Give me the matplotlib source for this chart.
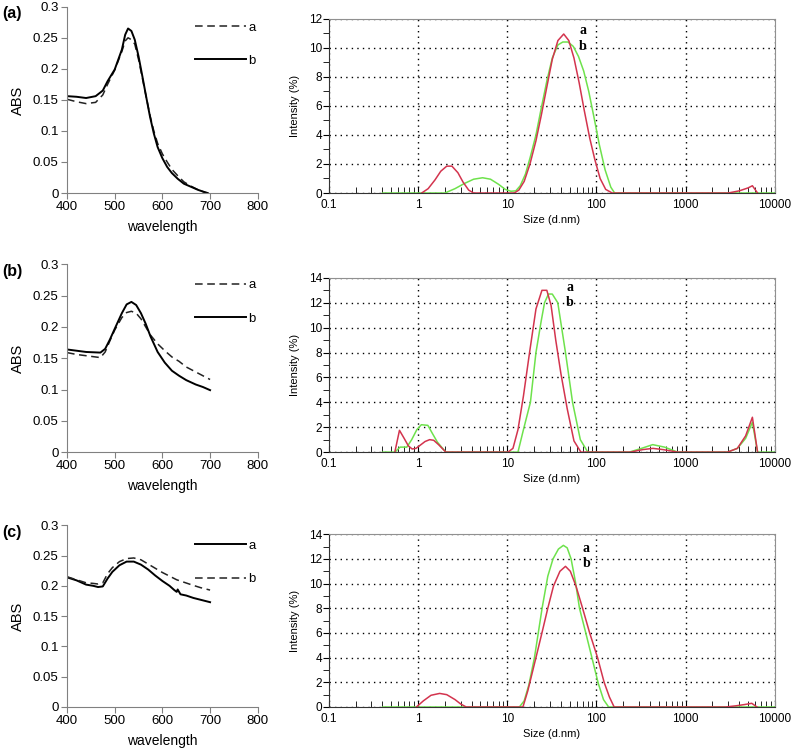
import matplotlib.pyplot as plt
from matplotlib.ticker import MultipleLocator, LogLocator, NullFormatter, FixedLocator
import numpy as np

plt.rcParams['font.family'] = ['Liberation Sans', 'DejaVu Sans']

# ---- UV-vis spectra (left column) ----
wl_a = [400, 420, 440, 460, 475, 485, 500, 515, 522, 528, 535, 542, 550, 558, 566, 574, 582, 590,
        600, 610, 620, 632, 645, 660, 675, 690, 695]
abs_a_a = [0.151, 0.147, 0.144, 0.146, 0.158, 0.175, 0.198, 0.228, 0.245, 0.25, 0.247, 0.24, 0.215,
           0.185, 0.155, 0.125, 0.1, 0.08, 0.063, 0.05, 0.038, 0.028, 0.018, 0.011, 0.005, 0.001, 0.0]
abs_a_b = [0.156, 0.155, 0.153, 0.156, 0.165, 0.18, 0.199, 0.231, 0.255, 0.265, 0.261, 0.247, 0.22,
           0.188, 0.155, 0.123, 0.096, 0.074, 0.056, 0.042, 0.032, 0.023, 0.015, 0.01, 0.005, 0.001, 0.0]

wl_b = [400, 420, 440, 470, 480, 490, 500, 515, 525, 535, 545, 555, 565, 575, 590, 605, 620, 635,
        650, 670, 685, 700]
abs_b_a = [0.159, 0.156, 0.154, 0.151, 0.16, 0.178, 0.195, 0.215, 0.223, 0.225, 0.222, 0.213, 0.2,
           0.187, 0.173, 0.162, 0.152, 0.145, 0.136, 0.128, 0.122, 0.116]
abs_b_b = [0.164, 0.162, 0.16, 0.159, 0.165, 0.18, 0.197, 0.222, 0.236, 0.24, 0.235, 0.222, 0.205,
           0.185, 0.16, 0.143, 0.13, 0.122, 0.115, 0.108, 0.104, 0.099]

wl_c_a = [400, 420, 440, 455, 465, 475, 485, 495, 510, 525, 540, 555, 570, 585, 600, 615, 625, 630,
          632, 638, 650, 665, 680, 700]
abs_c_a = [0.214, 0.209, 0.202, 0.2, 0.198, 0.199, 0.212, 0.223, 0.234, 0.24, 0.24, 0.235, 0.227,
           0.217, 0.208, 0.2, 0.193, 0.19, 0.194, 0.186, 0.184, 0.18, 0.177, 0.173]
wl_c_b = [400, 420, 440, 455, 465, 475, 485, 495, 510, 525, 540, 555, 570, 585, 600, 615, 630, 645,
          660, 680, 700]
abs_c_b = [0.215, 0.21, 0.205, 0.204, 0.203, 0.205, 0.22, 0.23, 0.24, 0.245, 0.246, 0.243, 0.236,
           0.229, 0.222, 0.216, 0.21, 0.206, 0.202, 0.197, 0.193]

# ---- DLS size distributions (right column) ----
size_a_red = [1.1, 1.3, 1.55, 1.8, 2.1, 2.4, 2.8, 3.2, 3.7, 4.2, 12, 13.5, 15.5, 18, 21, 24, 28, 32,
              37, 43, 49, 56, 64, 73, 84, 96, 110, 127, 150, 3000, 4000, 5000, 5600, 6400]
int_a_red = [0, 0.3, 0.9, 1.5, 1.85, 1.85, 1.4, 0.75, 0.2, 0, 0, 0.2, 0.8, 2.0, 3.6, 5.3, 7.4, 9.2,
             10.5, 10.95, 10.5, 9.3, 7.6, 5.7, 3.8, 2.3, 1.0, 0.25, 0, 0, 0.15, 0.35, 0.5, 0]
size_a_grn = [0.4, 1.0, 2.0, 2.6, 3.3, 4.2, 5.3, 6.5, 8.0, 9.5, 11.0, 12.5, 14, 16, 18, 21, 24, 28,
              32, 37, 42, 48, 55, 63, 72, 82, 94, 108, 125, 145, 160, 1000, 10000]
int_a_grn = [0, 0, 0, 0.3, 0.65, 0.95, 1.05, 0.95, 0.6, 0.25, 0.12, 0.15, 0.5, 1.3, 2.4, 4.0, 5.8,
             7.8, 9.3, 10.2, 10.4, 10.4, 10.1, 9.4, 8.4, 7.0, 5.2, 3.3, 1.6, 0.4, 0, 0, 0]

size_b_red = [0.55, 0.62, 0.7, 0.78, 0.86, 0.95, 1.08, 1.2, 1.35, 1.5, 1.7, 2.05, 10.2, 11.6, 13.2,
              15.2, 17.8, 21, 24.5, 27.8, 31, 35, 40, 47, 56, 67, 240, 330, 430, 560, 810, 2950,
              3800, 4700, 5600, 6400]
int_b_red = [0, 1.75, 1.1, 0.5, 0.25, 0.3, 0.6, 0.85, 1.0, 0.95, 0.6, 0, 0, 0.3, 1.8, 4.5, 8.0,
             11.5, 13, 13, 11.8, 9.0, 6.3, 3.5, 0.9, 0, 0, 0.2, 0.3, 0.2, 0, 0, 0.3, 1.3, 2.8, 0]
size_b_grn = [0.4, 0.55, 0.63, 0.75, 0.85, 0.97, 1.09, 1.29, 1.45, 1.65, 2.05, 13.2, 15.2, 18.2, 21,
              24, 26.2, 29, 32, 36.9, 45, 54, 66, 80, 234, 320, 427, 580, 813, 2950, 3800, 4700,
              5600, 6400, 10000]
int_b_grn = [0, 0, 0.4, 0.4, 1.0, 1.8, 2.2, 2.15, 1.5, 0.8, 0, 0, 1.8, 4.0, 8.0, 10.5, 12.0, 12.7,
             12.7, 12.0, 8.0, 4.0, 1.0, 0, 0, 0.3, 0.6, 0.4, 0, 0, 0.3, 1.1, 2.4, 0, 0]

size_c_red = [0.96, 1.15, 1.4, 1.75, 2.1, 2.6, 3.0, 3.47, 15, 17, 21, 24.5, 28.5, 33, 39, 45, 51, 59,
              70, 84, 103, 122, 140, 158, 2800, 3700, 4600, 5500, 6300]
int_c_red = [0, 0.5, 0.95, 1.1, 1.0, 0.6, 0.25, 0, 0, 1.3, 4.0, 6.0, 8.0, 9.8, 11.0, 11.4, 11.0, 9.8,
             8.0, 6.0, 4.0, 2.0, 0.8, 0, 0, 0.1, 0.2, 0.3, 0]
size_c_grn = [0.4, 13.7, 15.5, 17.5, 20.2, 24.6, 28.5, 32.6, 37.5, 42.6, 47, 52, 58, 64.6, 76, 89,
              105, 120, 137, 10000]
int_c_grn = [0, 0, 0.5, 1.8, 4.0, 8.0, 10.6, 12.0, 12.8, 13.1, 12.9, 12.0, 10.2, 8.0, 6.0, 4.0, 1.9,
             0.6, 0, 0]

panel_tags = ['(a)', '(b)', '(c)']
red = '#d3344e'
grn = '#6ee24c'

fig = plt.figure(figsize=(7.98, 7.51), dpi=100)

rows = [(0.743, 0.248, 0.232), (0.398, 0.250, 0.232), (0.0586, 0.242, 0.230)]

uv = [
    [(wl_a, abs_a_a, '--', 'a'), (wl_a, abs_a_b, '-', 'b')],
    [(wl_b, abs_b_a, '--', 'a'), (wl_b, abs_b_b, '-', 'b')],
    [(wl_c_a, abs_c_a, '-', 'a'), (wl_c_b, abs_c_b, '--', 'b')],
]
dls = [
    (size_a_grn, int_a_grn, size_a_red, int_a_red, 12, (70, 11.2, 10.1)),
    (size_b_grn, int_b_grn, size_b_red, int_b_red, 14, (50, 13.2, 12.0)),
    (size_c_grn, int_c_grn, size_c_red, int_c_red, 14, (77, 12.85, 11.6)),
]

for i, (bot, hl, hr) in enumerate(rows):
    # left UV-vis panel
    ax = fig.add_axes([0.084, bot, 0.239, hl])
    for x, y, ls, lab in uv[i]:
        if ls == '--':
            ax.plot(x, y, color='#222222', lw=1.1, ls=(0, (5, 3)), label=lab)
        else:
            ax.plot(x, y, color='black', lw=1.4, label=lab)
    ax.set_xlim(400, 800)
    ax.set_ylim(0, 0.3)
    ax.xaxis.set_major_locator(MultipleLocator(100))
    ax.yaxis.set_major_locator(MultipleLocator(0.05))
    ax.yaxis.set_major_formatter(plt.FuncFormatter(lambda v, p: ('%g' % round(v, 2))))
    for s in ['top', 'right']:
        ax.spines[s].set_visible(False)
    for s in ['left', 'bottom']:
        ax.spines[s].set_color('#808080')
    ax.tick_params(direction='out', length=4, color='#808080', labelsize=9.5, pad=2)
    ax.set_ylabel('ABS', fontsize=10.5, labelpad=6)
    ax.set_xlabel('wavelength', fontsize=10, labelpad=5)
    ax.legend(loc='upper right', bbox_to_anchor=(1.05, 0.985), frameon=False, handlelength=3.8,
              handletextpad=0.2, labelspacing=1.6, fontsize=9.5)
    fig.text(0.003, bot + hl - 0.009, panel_tags[i], fontsize=11.5, fontweight='bold', va='center')

    # right DLS panel
    sg, ig, sr, ir, ymax, (xt, ya, yb) = dls[i]
    ax2 = fig.add_axes([0.412, bot, 0.559, hr])
    ax2.plot(sg, ig, color=grn, lw=1.1)
    ax2.plot(sr, ir, color=red, lw=1.1)
    ax2.set_xscale('log')
    ax2.set_xlim(0.1, 10000)
    ax2.set_ylim(0, ymax)
    ax2.xaxis.set_major_locator(FixedLocator([0.1, 1, 10, 100, 1000, 10000]))
    ax2.xaxis.set_major_formatter(plt.FuncFormatter(lambda v, p: '%g' % v))
    ax2.xaxis.set_minor_locator(LogLocator(base=10, subs=np.arange(2, 10)))
    ax2.xaxis.set_minor_formatter(NullFormatter())
    ax2.yaxis.set_major_locator(MultipleLocator(2))
    ax2.yaxis.set_minor_locator(MultipleLocator(1))
    ax2.grid(True, which='major', color='black', ls=(0, (1, 3)), lw=1.0)
    for s in ['top', 'right']:
        ax2.spines[s].set_color('#909090')
    ax2.spines['left'].set_color('#333333')
    ax2.spines['bottom'].set_color('#333333')
    ax2.tick_params(axis='x', which='both', direction='in', length=4, labelsize=8.5, pad=4)
    ax2.tick_params(axis='y', which='both', direction='out', length=4, labelsize=8.5, pad=1)
    ax2.set_ylabel('Intensity (%)', fontsize=8, labelpad=6)
    ax2.set_xlabel('Size (d.nm)', fontsize=8, labelpad=3)
    ax2.text(xt, ya, 'a', family='Liberation Serif', fontweight='bold', fontsize=10,
             ha='center', va='center')
    ax2.text(xt, yb, 'b', family='Liberation Serif', fontweight='bold', fontsize=10,
             ha='center', va='center')

fig.savefig('out.png', dpi=100)
